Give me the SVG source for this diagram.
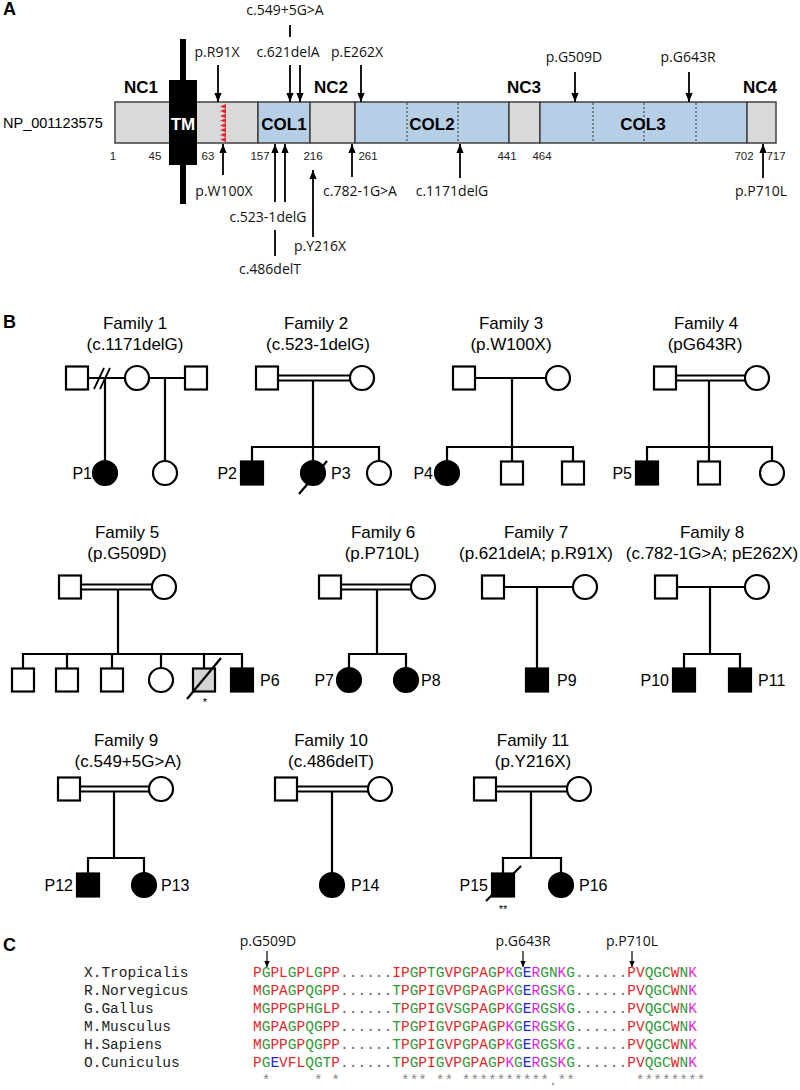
<svg xmlns="http://www.w3.org/2000/svg" width="800" height="1090" viewBox="0 0 800 1090">
<defs>
<marker id="ah" viewBox="0 0 10 10" refX="10" refY="5" markerWidth="5" markerHeight="4" preserveAspectRatio="none" orient="auto"><path d="M0,0 L10,5 L0,10 z" fill="#000"/></marker>
<marker id="ahs" viewBox="0 0 10 10" refX="10" refY="5" markerWidth="5" markerHeight="4.5" preserveAspectRatio="none" orient="auto"><path d="M0,0 L10,5 L0,10 z" fill="#000"/></marker>
</defs>
<style>
.pan{font-family:"Liberation Sans",Arial,sans-serif;font-size:18px;font-weight:bold}
.dom{font-family:"Liberation Sans",Arial,sans-serif;font-size:17px;font-weight:bold;text-anchor:middle}
.num{font-family:"Liberation Sans",Arial,sans-serif;font-size:11.5px;text-anchor:middle;fill:#222}
.mut{font-family:"Open Sans",sans-serif;font-size:14px;text-anchor:middle;fill:#111}
.ttl{font-family:"Liberation Sans",Arial,sans-serif;font-size:17px;text-anchor:middle}
.pl{font-family:"Liberation Sans",Arial,sans-serif;font-size:16px}
.ple{font-family:"Liberation Sans",Arial,sans-serif;font-size:16px;text-anchor:end}
.ast{font-family:"Liberation Sans",Arial,sans-serif;font-size:11px;text-anchor:middle}
.gry{fill:#d9d9d9;stroke:#404040;stroke-width:1.5}
.blu{fill:#b7cfe6;stroke:#404040;stroke-width:1.5}
.dot{stroke:#333;stroke-width:1;stroke-dasharray:2,2}
.arr{stroke:#000;stroke-width:1.8;fill:none;marker-end:url(#ah)}
.arrs{stroke:#000;stroke-width:1.2;fill:none;marker-end:url(#ahs)}
.tick{stroke:#000;stroke-width:1.8}
.ln{stroke:#000;stroke-width:2.2;fill:none}
.dl{stroke:#000;stroke-width:1.8;fill:none}
.o{fill:#fff;stroke:#000;stroke-width:2.2}
.f{fill:#000;stroke:#000;stroke-width:2.2}
.gs{fill:#d4d4d4;stroke:#000;stroke-width:2.2}
.seq{font-family:"Liberation Mono","Courier New",monospace;font-size:14.5px}
.nm{font-family:"Liberation Mono","Courier New",monospace;font-size:14.5px;fill:#222}
.r{fill:#e3262b}.g{fill:#2f9a3a}.b{fill:#2323d8}.m{fill:#e01fe0}.d{fill:#666}.c{fill:#888}
</style>

<!-- Panel A -->
<text class="pan" x="3" y="15">A</text>
<g id="protein">
<rect class="gry" x="115" y="102" width="143" height="41"/>
<rect class="blu" x="258" y="102" width="52" height="41"/>
<rect class="gry" x="310" y="102" width="45" height="41"/>
<rect class="blu" x="355" y="102" width="154" height="41"/>
<rect class="gry" x="509" y="102" width="31" height="41"/>
<rect class="blu" x="540" y="102" width="207" height="41"/>
<rect class="gry" x="747" y="102" width="29" height="41"/>
<line class="dot" x1="407" y1="103" x2="407" y2="142"/>
<line class="dot" x1="458" y1="103" x2="458" y2="142"/>
<line class="dot" x1="593" y1="103" x2="593" y2="142"/>
<line class="dot" x1="644" y1="103" x2="644" y2="142"/>
<line class="dot" x1="696" y1="103" x2="696" y2="142"/>
<path d="M226,104 L220,106.4 L226,108.75 L220,111.1 L226,113.5 L220,115.9 L226,118.25 L220,120.6 L226,123 L220,125.4 L226,127.75 L220,130.1 L226,132.5 L220,134.9 L226,137.25 L220,139.6 L226,142 Z" fill="#e8262a"/>
<rect x="180" y="39" width="6" height="165" fill="#000"/>
<rect x="169" y="80" width="28" height="85" fill="#000"/>
<text class="dom" x="183" y="130" fill="#fff">TM</text>
<text class="dom" x="284" y="130">COL1</text>
<text class="dom" x="432" y="130">COL2</text>
<text class="dom" x="643" y="130">COL3</text>
<text class="dom" x="141" y="93">NC1</text>
<text class="dom" x="331" y="93">NC2</text>
<text class="dom" x="524" y="93">NC3</text>
<text class="dom" x="760" y="93">NC4</text>
<text x="3" y="128" font-family="Liberation Sans, Arial, sans-serif" font-size="14.5">NP_001123575</text>
<text class="num" x="113" y="160">1</text>
<text class="num" x="155" y="160">45</text>
<text class="num" x="208" y="160">63</text>
<text class="num" x="260" y="160">157</text>
<text class="num" x="313" y="160">216</text>
<text class="num" x="368" y="160">261</text>
<text class="num" x="507" y="160">441</text>
<text class="num" x="542" y="160">464</text>
<text class="num" x="744" y="160">702</text>
<text class="num" x="776" y="160">717</text>
</g>
<g id="mutation-arrows">
<line class="arr" x1="218" y1="65" x2="218" y2="102"/>
<line class="arr" x1="290" y1="65" x2="290" y2="102"/>
<line class="arr" x1="300" y1="65" x2="300" y2="102"/>
<line class="arr" x1="361" y1="65" x2="361" y2="102"/>
<line class="arr" x1="575" y1="72" x2="575" y2="102"/>
<line class="arr" x1="689" y1="72" x2="689" y2="102"/>
<line class="tick" x1="290" y1="25" x2="290" y2="37"/>
<line class="arr" x1="223" y1="175" x2="223" y2="144"/>
<line class="arr" x1="275" y1="202" x2="275" y2="144"/>
<line class="arr" x1="285" y1="202" x2="285" y2="144"/>
<line class="arr" x1="352" y1="177" x2="352" y2="144"/>
<line class="arr" x1="460" y1="178" x2="460" y2="144"/>
<line class="arr" x1="763" y1="178" x2="763" y2="144"/>
<line class="arr" x1="313" y1="237" x2="313" y2="170"/>
<line class="tick" x1="275" y1="230" x2="275" y2="256"/>
</g>
<g id="mutation-labels">
<text class="mut" x="285" y="15">c.549+5G&gt;A</text>
<text class="mut" x="217" y="57">p.R91X</text>
<text class="mut" x="288" y="57">c.621delA</text>
<text class="mut" x="357" y="57">p.E262X</text>
<text class="mut" x="574" y="62">p.G509D</text>
<text class="mut" x="688" y="62">p.G643R</text>
<text class="mut" x="224" y="196">p.W100X</text>
<text class="mut" x="360" y="196">c.782-1G&gt;A</text>
<text class="mut" x="452" y="196">c.1171delG</text>
<text class="mut" x="761" y="196">p.P710L</text>
<text class="mut" x="268" y="222">c.523-1delG</text>
<text class="mut" x="320" y="251">p.Y216X</text>
<text class="mut" x="270" y="274">c.486delT</text>
</g>

<!-- Panel B -->
<text class="pan" x="3" y="328">B</text>
<g id="titles">
<text class="ttl" x="135" y="329">Family 1</text><text class="ttl" x="135" y="350">(c.1171delG)</text>
<text class="ttl" x="316" y="329">Family 2</text><text class="ttl" x="318" y="350">(c.523-1delG)</text>
<text class="ttl" x="511" y="329">Family 3</text><text class="ttl" x="511" y="350">(p.W100X)</text>
<text class="ttl" x="706" y="329">Family 4</text><text class="ttl" x="705" y="350">(pG643R)</text>
<text class="ttl" x="127" y="538">Family 5</text><text class="ttl" x="127" y="559">(p.G509D)</text>
<text class="ttl" x="383" y="538">Family 6</text><text class="ttl" x="382" y="559">(p.P710L)</text>
<text class="ttl" x="536" y="538">Family 7</text><text class="ttl" x="536" y="559">(p.621delA; p.R91X)</text>
<text class="ttl" x="712" y="538">Family 8</text><text class="ttl" x="712" y="559">(c.782-1G&gt;A; pE262X)</text>
<text class="ttl" x="126" y="746">Family 9</text><text class="ttl" x="128" y="767">(c.549+5G&gt;A)</text>
<text class="ttl" x="331" y="746">Family 10</text><text class="ttl" x="331" y="767">(c.486delT)</text>
<text class="ttl" x="533" y="746">Family 11</text><text class="ttl" x="533" y="767">(p.Y216X)</text>
</g>

<g id="connectors">
<path class="ln" d="M88,378 H125 M149,378 H185 M105,378 V461 M165,378 V461"/>
<path class="dl" d="M94,389 L104,368 M100,389 L110,368"/>
<path class="dl" d="M278,375.5 H350 M278,380.5 H350"/>
<path class="ln" d="M313,380.5 V447 M252,447 H379 M252,446 V461.5 M313,447 V461 M379,446 V461"/>
<path class="ln" d="M475,378 H546 M512,378 V447 M447,447 H573 M447,446 V461 M512,447 V461.5 M573,446 V461.5"/>
<path class="dl" d="M676,375.5 H745 M676,380.5 H745"/>
<path class="ln" d="M709,380.5 V447 M647,447 H772 M647,446 V461.5 M709,447 V461.5 M772,446 V461"/>
<path class="dl" d="M81,584.5 H152 M81,589.5 H152"/>
<path class="ln" d="M118,589.5 V654 M23,654 H242 M23,653 V668.5 M67,654 V668.5 M112,654 V668.5 M161,654 V668 M204,654 V668.5 M242,653 V668.5"/>
<path class="dl" d="M341,584.5 H411 M341,589.5 H411"/>
<path class="ln" d="M377,589.5 V654 M349,654 H406 M349,653 V668 M406,653 V668"/>
<path class="ln" d="M504,587 H573 M537,587 V668.5"/>
<path class="ln" d="M677,587 H745 M710,587 V654 M684,654 H740 M684,653 V668.5 M740,653 V668.5"/>
<path class="dl" d="M80,786.5 H149 M80,791.5 H149"/>
<path class="ln" d="M114,791.5 V858 M88,858 H144 M88,857 V873.5 M144,857 V873"/>
<path class="dl" d="M297,786.5 H368 M297,791.5 H368"/>
<path class="ln" d="M332,791.5 V873"/>
<path class="dl" d="M496,786.5 H567 M496,791.5 H567"/>
<path class="ln" d="M531,791.5 V858 M503,858 H561 M503,857 V873.5 M561,857 V873"/>
</g>

<g id="family1">
<rect class="o" x="66" y="366.5" width="22" height="23"/>
<ellipse class="o" cx="137" cy="378" rx="12" ry="12"/>
<rect class="o" x="185" y="366.5" width="22" height="23"/>
<ellipse class="f" cx="105" cy="473" rx="12" ry="12"/>
<text class="ple" x="92" y="479">P1</text>
<ellipse class="o" cx="165" cy="473" rx="12" ry="12"/>
</g>
<g id="family2">
<rect class="o" x="256" y="366.5" width="22" height="23"/>
<ellipse class="o" cx="362" cy="378" rx="12" ry="12"/>
<rect class="f" x="241" y="461.5" width="22" height="23"/>
<text class="ple" x="237" y="479">P2</text>
<ellipse class="f" cx="313" cy="473" rx="12" ry="12"/>
<path class="ln" d="M299,494 L327,461"/>
<text class="pl" x="331" y="479">P3</text>
<ellipse class="o" cx="379" cy="473" rx="12" ry="12"/>
</g>
<g id="family3">
<rect class="o" x="453" y="366.5" width="22" height="23"/>
<ellipse class="o" cx="558" cy="378" rx="12" ry="12"/>
<ellipse class="f" cx="447" cy="473" rx="12" ry="12"/>
<text class="ple" x="433" y="479">P4</text>
<rect class="o" x="501" y="461.5" width="22" height="23"/>
<rect class="o" x="562" y="461.5" width="22" height="23"/>
</g>
<g id="family4">
<rect class="o" x="654" y="366.5" width="22" height="23"/>
<ellipse class="o" cx="757" cy="378" rx="12" ry="12"/>
<rect class="f" x="636" y="461.5" width="22" height="23"/>
<text class="ple" x="632" y="479">P5</text>
<rect class="o" x="698" y="461.5" width="22" height="23"/>
<ellipse class="o" cx="772" cy="473" rx="12" ry="12"/>
</g>
<g id="family5">
<rect class="o" x="59" y="575.5" width="22" height="23"/>
<ellipse class="o" cx="164" cy="587" rx="12" ry="12"/>
<rect class="o" x="12" y="668.5" width="22" height="23"/>
<rect class="o" x="56" y="668.5" width="22" height="23"/>
<rect class="o" x="101" y="668.5" width="22" height="23"/>
<ellipse class="o" cx="161" cy="680" rx="12" ry="12"/>
<rect class="gs" x="193" y="668.5" width="22" height="23"/>
<path class="ln" d="M187,699 L221,658"/>
<text class="ast" x="205" y="706">*</text>
<rect class="f" x="231" y="668.5" width="22" height="23"/>
<text class="pl" x="260" y="686">P6</text>
</g>
<g id="family6">
<rect class="o" x="319" y="575.5" width="22" height="23"/>
<ellipse class="o" cx="423" cy="587" rx="12" ry="12"/>
<ellipse class="f" cx="349" cy="680" rx="12" ry="12"/>
<text class="ple" x="334" y="686">P7</text>
<ellipse class="f" cx="406" cy="680" rx="12" ry="12"/>
<text class="pl" x="421" y="686">P8</text>
</g>
<g id="family7">
<rect class="o" x="482" y="575.5" width="22" height="23"/>
<ellipse class="o" cx="585" cy="587" rx="12" ry="12"/>
<rect class="f" x="526" y="668.5" width="22" height="23"/>
<text class="pl" x="557" y="686">P9</text>
</g>
<g id="family8">
<rect class="o" x="655" y="575.5" width="22" height="23"/>
<ellipse class="o" cx="757" cy="587" rx="12" ry="12"/>
<rect class="f" x="673" y="668.5" width="22" height="23"/>
<text class="ple" x="669" y="686">P10</text>
<rect class="f" x="729" y="668.5" width="22" height="23"/>
<text class="pl" x="758" y="686">P11</text>
</g>
<g id="family9">
<rect class="o" x="58" y="777.5" width="22" height="23"/>
<ellipse class="o" cx="161" cy="789" rx="12" ry="12"/>
<rect class="f" x="77" y="873.5" width="22" height="23"/>
<text class="ple" x="73" y="891">P12</text>
<ellipse class="f" cx="144" cy="885" rx="12" ry="12"/>
<text class="pl" x="161" y="891">P13</text>
</g>
<g id="family10">
<rect class="o" x="275" y="777.5" width="22" height="23"/>
<ellipse class="o" cx="380" cy="789" rx="12" ry="12"/>
<ellipse class="f" cx="332" cy="885" rx="12" ry="12"/>
<text class="pl" x="351" y="891">P14</text>
</g>
<g id="family11">
<rect class="o" x="474" y="777.5" width="22" height="23"/>
<ellipse class="o" cx="579" cy="789" rx="12" ry="12"/>
<rect class="f" x="492" y="873.5" width="22" height="23"/>
<path class="ln" d="M486,901 L521,866"/>
<text class="ple" x="488" y="891">P15</text>
<text class="ast" x="503" y="913">**</text>
<ellipse class="f" cx="561" cy="885" rx="12" ry="12"/>
<text class="pl" x="579" y="891">P16</text>
</g>

<!-- Panel C -->
<text class="pan" x="3" y="951">C</text>
<g id="alignment">
<text class="mut" x="268" y="946">p.G509D</text>
<text class="mut" x="523" y="946">p.G643R</text>
<text class="mut" x="632" y="946">p.P710L</text>
<line class="arrs" x1="267" y1="951" x2="267" y2="967"/>
<line class="arrs" x1="523" y1="951" x2="523" y2="967"/>
<line class="arrs" x1="632" y1="951" x2="632" y2="967"/>
<text class="nm" x="84" y="977">X.Tropicalis</text>
<text class="nm" x="84" y="995">R.Norvegicus</text>
<text class="nm" x="84" y="1013">G.Gallus</text>
<text class="nm" x="84" y="1031">M.Musculus</text>
<text class="nm" x="84" y="1049">H.Sapiens</text>
<text class="nm" x="84" y="1067">O.Cuniculus</text>
<text class="seq" x="253" y="977"><tspan class="r">P</tspan><tspan class="g">G</tspan><tspan class="r">PL</tspan><tspan class="g">G</tspan><tspan class="r">PL</tspan><tspan class="g">G</tspan><tspan class="r">PP</tspan><tspan class="d">......</tspan><tspan class="r">IP</tspan><tspan class="g">G</tspan><tspan class="r">P</tspan><tspan class="g">TG</tspan><tspan class="r">VP</tspan><tspan class="g">G</tspan><tspan class="r">PA</tspan><tspan class="g">G</tspan><tspan class="r">P</tspan><tspan class="m">K</tspan><tspan class="g">G</tspan><tspan class="b">E</tspan><tspan class="m">R</tspan><tspan class="g">GN</tspan><tspan class="m">K</tspan><tspan class="g">G</tspan><tspan class="d">......</tspan><tspan class="r">PV</tspan><tspan class="g">QGC</tspan><tspan class="r">W</tspan><tspan class="g">N</tspan><tspan class="m">K</tspan></text>
<text class="seq" x="253" y="995"><tspan class="r">M</tspan><tspan class="g">G</tspan><tspan class="r">PA</tspan><tspan class="g">G</tspan><tspan class="r">P</tspan><tspan class="g">QG</tspan><tspan class="r">PP</tspan><tspan class="d">......</tspan><tspan class="g">T</tspan><tspan class="r">P</tspan><tspan class="g">G</tspan><tspan class="r">PI</tspan><tspan class="g">G</tspan><tspan class="r">VP</tspan><tspan class="g">G</tspan><tspan class="r">PA</tspan><tspan class="g">G</tspan><tspan class="r">P</tspan><tspan class="m">K</tspan><tspan class="g">G</tspan><tspan class="b">E</tspan><tspan class="m">R</tspan><tspan class="g">GS</tspan><tspan class="m">K</tspan><tspan class="g">G</tspan><tspan class="d">......</tspan><tspan class="r">PV</tspan><tspan class="g">QGC</tspan><tspan class="r">W</tspan><tspan class="g">N</tspan><tspan class="m">K</tspan></text>
<text class="seq" x="253" y="1013"><tspan class="r">M</tspan><tspan class="g">G</tspan><tspan class="r">PP</tspan><tspan class="g">G</tspan><tspan class="r">P</tspan><tspan class="g">HG</tspan><tspan class="r">LP</tspan><tspan class="d">......</tspan><tspan class="g">T</tspan><tspan class="r">P</tspan><tspan class="g">G</tspan><tspan class="r">PI</tspan><tspan class="g">G</tspan><tspan class="r">V</tspan><tspan class="g">SG</tspan><tspan class="r">PA</tspan><tspan class="g">G</tspan><tspan class="r">P</tspan><tspan class="m">K</tspan><tspan class="g">G</tspan><tspan class="b">E</tspan><tspan class="m">R</tspan><tspan class="g">GS</tspan><tspan class="m">K</tspan><tspan class="g">G</tspan><tspan class="d">......</tspan><tspan class="r">PV</tspan><tspan class="g">QGC</tspan><tspan class="r">W</tspan><tspan class="g">N</tspan><tspan class="m">K</tspan></text>
<text class="seq" x="253" y="1031"><tspan class="r">M</tspan><tspan class="g">G</tspan><tspan class="r">PA</tspan><tspan class="g">G</tspan><tspan class="r">P</tspan><tspan class="g">QG</tspan><tspan class="r">PP</tspan><tspan class="d">......</tspan><tspan class="g">T</tspan><tspan class="r">P</tspan><tspan class="g">G</tspan><tspan class="r">PI</tspan><tspan class="g">G</tspan><tspan class="r">VP</tspan><tspan class="g">G</tspan><tspan class="r">PA</tspan><tspan class="g">G</tspan><tspan class="r">P</tspan><tspan class="m">K</tspan><tspan class="g">G</tspan><tspan class="b">E</tspan><tspan class="m">R</tspan><tspan class="g">GS</tspan><tspan class="m">K</tspan><tspan class="g">G</tspan><tspan class="d">......</tspan><tspan class="r">PV</tspan><tspan class="g">QGC</tspan><tspan class="r">W</tspan><tspan class="g">N</tspan><tspan class="m">K</tspan></text>
<text class="seq" x="253" y="1049"><tspan class="r">M</tspan><tspan class="g">G</tspan><tspan class="r">PP</tspan><tspan class="g">G</tspan><tspan class="r">P</tspan><tspan class="g">QG</tspan><tspan class="r">PP</tspan><tspan class="d">......</tspan><tspan class="g">T</tspan><tspan class="r">P</tspan><tspan class="g">G</tspan><tspan class="r">PI</tspan><tspan class="g">G</tspan><tspan class="r">VP</tspan><tspan class="g">G</tspan><tspan class="r">PA</tspan><tspan class="g">G</tspan><tspan class="r">P</tspan><tspan class="m">K</tspan><tspan class="g">G</tspan><tspan class="b">E</tspan><tspan class="m">R</tspan><tspan class="g">GS</tspan><tspan class="m">K</tspan><tspan class="g">G</tspan><tspan class="d">......</tspan><tspan class="r">PV</tspan><tspan class="g">QGC</tspan><tspan class="r">W</tspan><tspan class="g">N</tspan><tspan class="m">K</tspan></text>
<text class="seq" x="253" y="1067"><tspan class="r">P</tspan><tspan class="g">G</tspan><tspan class="b">E</tspan><tspan class="r">VFL</tspan><tspan class="g">QGT</tspan><tspan class="r">P</tspan><tspan class="d">......</tspan><tspan class="g">T</tspan><tspan class="r">P</tspan><tspan class="g">G</tspan><tspan class="r">PI</tspan><tspan class="g">G</tspan><tspan class="r">VP</tspan><tspan class="g">G</tspan><tspan class="r">PA</tspan><tspan class="g">G</tspan><tspan class="r">P</tspan><tspan class="m">K</tspan><tspan class="g">G</tspan><tspan class="b">E</tspan><tspan class="m">R</tspan><tspan class="g">GS</tspan><tspan class="m">K</tspan><tspan class="g">G</tspan><tspan class="d">......</tspan><tspan class="r">PV</tspan><tspan class="g">QGC</tspan><tspan class="r">W</tspan><tspan class="g">N</tspan><tspan class="m">K</tspan></text>
<text class="seq c" x="253" y="1085" xml:space="preserve"> *     * *       *** ** **********.**       ********</text>
</g>
</svg>
